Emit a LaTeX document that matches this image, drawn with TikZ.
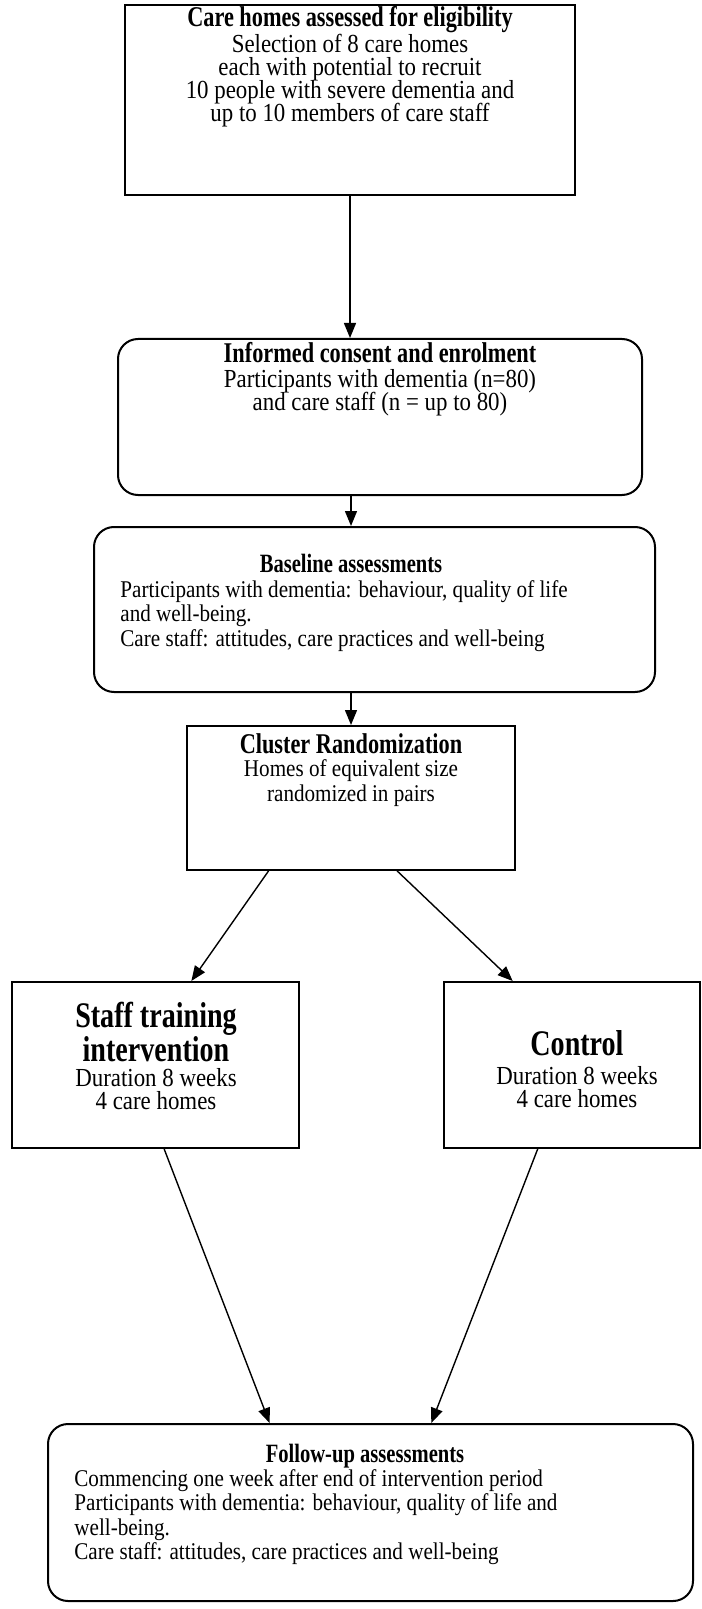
\documentclass[tikz,border=0pt]{standalone}
\usepackage{fontspec}
\setmainfont{Liberation Serif}[FakeStretch=0.88]
\newfontfamily\headfont{Liberation Serif}[FakeStretch=0.78]
\usetikzlibrary{arrows.meta,positioning,calc}
\tikzset{
  flowbox/.style={draw, line width=1pt, inner sep=0pt},
  roundbox/.style={flowbox, rounded corners=10pt},
  headA/.style={anchor=north, inner sep=0pt, align=center,
                font=\headfont\bfseries\fontsize{14.3}{15}\selectfont},
  headB/.style={anchor=north, inner sep=0pt, align=center,
                font=\headfont\bfseries\fontsize{13.2}{14}\selectfont},
  headC/.style={anchor=north, inner sep=0pt, align=center,
                font={\headfont\bfseries\fontsize{18}{17}\selectfont\lineskiplimit=-20pt}},
  bodyA/.style={anchor=north, inner sep=0pt, align=center,
                font={\fontsize{13}{11.4}\selectfont\lineskiplimit=-20pt}},
  bodyB/.style={anchor=north, inner sep=0pt, align=center,
                font={\fontsize{12}{12.2}\selectfont\lineskiplimit=-20pt}},
  arr/.style={-{Triangle[length=7.5pt,width=6pt]}, line width=0.7pt}}

\begin{document}
\begin{tikzpicture}[x=0.5pt, y=-0.5pt]
  \useasboundingbox (0,0) rectangle (701,1609);

  % boxes
  \node[flowbox, minimum width=225pt, minimum height=95pt] (care) at (350,100) {};
  \node[roundbox, minimum width=262pt, minimum height=78pt] (consent) at (380,417) {};
  \node[roundbox, minimum width=280.5pt, minimum height=82.5pt] (baseline) at (374.5,609.5) {};
  \node[flowbox, minimum width=164pt, minimum height=72pt] (cluster) at (351,798) {};
  \node[flowbox, minimum width=143.5pt, minimum height=83pt] (staff) at (155.5,1065) {};
  \node[flowbox, minimum width=128pt, minimum height=83pt] (control) at (572,1065) {};
  \node[roundbox, minimum width=322.5pt, minimum height=88.5pt] (follow) at (370.5,1512.5) {};

  % texts
  \node[headA] (careT) at (350,6) {Care homes assessed for eligibility};
  \node[bodyA] (careB) at (350,34) {Selection of 8 care homes\\ each with potential to recruit\\
    10 people with severe dementia and\\ up to 10 members of care staff};
  \node[headA] (consentT) at (380,342) {Informed consent and enrolment};
  \node[bodyA] (consentB) at (380,369.5) {Participants with dementia (n=80)\\ and care staff (n = up to 80)};
  \node[headB] (baselineT) at (351,554) {Baseline assessments};
  \node[bodyB, anchor=north west, align=left] (baselineB) at (120,580)
    {Participants with dementia: behaviour, quality of life\\ and well-being.\\
     Care staff: attitudes, care practices and well-being};
  \node[headA] (clusterT) at (351,733) {Cluster Randomization};
  \node[bodyB] (clusterB) at (351,759.5) {Homes of equivalent size\\ randomized in pairs};
  \node[headC] (staffT) at (156,1001.5) {Staff training\\ intervention};
  \node[bodyA] (staffB) at (156,1068) {Duration 8 weeks\\ 4 care homes};
  \node[headC] (controlT) at (577,1030) {Control};
  \node[bodyA] (controlB) at (577,1066.5) {Duration 8 weeks\\ 4 care homes};
  \node[headB] (followT) at (365,1444) {Follow-up assessments};
  \node[bodyB, anchor=north west, align=left] (followB) at (74,1469)
    {Commencing one week after end of intervention period\\
     Participants with dementia: behaviour, quality of life and\\ well-being.\\
     Care staff: attitudes, care practices and well-being};

  % arrows
  \draw[arr] (care.south) -- (care.south |- consent.north);
  \draw[arr] (consent.south -| cluster.north) -- (baseline.north -| cluster.north);
  \draw[arr] (baseline.south -| cluster.north) -- (cluster.north);
  \draw[arr] ($(cluster.south west)!0.25!(cluster.south east)$) -- ($(staff.north west)!0.624!(staff.north east)$);
  \draw[arr] ($(cluster.south west)!0.64!(cluster.south east)$) -- ($(control.north west)!0.27!(control.north east)$);
  \draw[arr] ($(staff.south west)!0.53!(staff.south east)$) -- ($(follow.north west)!0.344!(follow.north east)$);
  \draw[arr] ($(control.south west)!0.367!(control.south east)$) -- ($(follow.north west)!0.594!(follow.north east)$);
\end{tikzpicture}
\end{document}
